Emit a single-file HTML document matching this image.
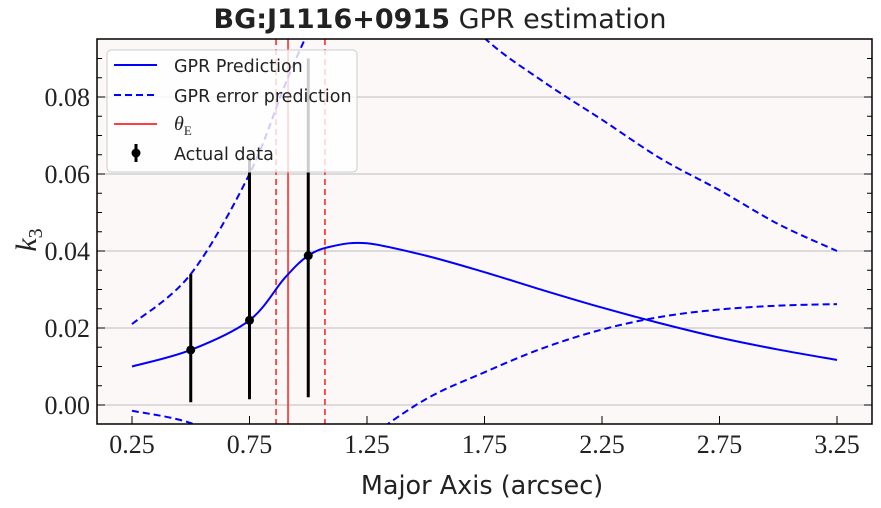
<!DOCTYPE html>
<html><head><meta charset="utf-8"><style>
body{margin:0;background:#fff;}
svg{display:block;}
</style></head><body>
<svg id="c" width="881" height="508" xmlns="http://www.w3.org/2000/svg" font-family="DejaVu Sans, Liberation Sans, sans-serif">
<defs><clipPath id="clip"><rect x="97" y="39" width="775" height="385"/></clipPath></defs>
<rect x="97" y="39" width="775" height="385" fill="#fdf8f8"/>
<g id="grid"></g><g id="plot" clip-path="url(#clip)"></g>
<rect x="97" y="39" width="775" height="385" fill="none" stroke="#000" stroke-width="1.5"/>
<g id="axes"></g>
<text x="440" y="28" text-anchor="middle" font-size="27" fill="#222"><tspan font-weight="bold">BG:J1116+0915</tspan> GPR estimation</text>
<text x="482" y="494" text-anchor="middle" font-size="25.5" fill="#222">Major Axis (arcsec)</text>
<text x="36" y="240" text-anchor="middle" font-size="30" font-style="italic" fill="#222" style="font-family:'Liberation Serif',serif" transform="rotate(-90 36 240)">k<tspan font-size="20" font-style="normal" dy="6">3</tspan></text>
<g>
<rect x="107" y="50" width="250" height="122" rx="4" fill="rgba(255,255,255,0.8)" stroke="#ccc"/>
<line x1="114" y1="65" x2="157" y2="65" stroke="#0000ff" stroke-width="2"/>
<text x="174" y="72" font-size="17.5" fill="#222">GPR Prediction</text>
<line x1="114" y1="95" x2="157" y2="95" stroke="#0000ff" stroke-width="2" stroke-dasharray="7,4"/>
<text x="174" y="102" font-size="17.5" fill="#222">GPR error prediction</text>
<line x1="114" y1="124" x2="157" y2="124" stroke="#ff4040" stroke-width="2"/>
<text x="174" y="130" font-size="20" font-style="italic" fill="#222" style="font-family:'Liberation Serif',serif">θ<tspan font-size="13" font-style="normal" dy="5">E</tspan></text>
<line x1="136" y1="144" x2="136" y2="162" stroke="#000" stroke-width="3"/>
<circle cx="136" cy="153" r="4.5" fill="#000"/>
<text x="174" y="160" font-size="17.5" fill="#222">Actual data</text>
</g>
</svg>
<script>
const gridX=[0.25,0.5,0.75,0.9,1.0,1.1,1.25,1.5,1.75,2.0,2.25,2.5,2.75,3.0,3.25];
const meanK3=[0.010,0.0143,0.022,0.033,0.0388,0.0412,0.0420,0.0388,0.0345,0.0298,0.0253,0.0212,0.0175,0.0144,0.0117];
const upperK3=[0.021,0.034,0.060,0.083,0.097,0.110,0.125,0.112,0.0953,0.084,0.0741,0.064,0.0558,0.047,0.040];
const lowerK3=[-0.0015,-0.0047,-0.012,-0.017,-0.019,-0.018,-0.009,0.0015,0.0085,0.0148,0.0196,0.0229,0.0248,0.0258,0.0262];
const dataX=[0.5,0.75,1.0];
const dataY=[0.0143,0.022,0.0388];
const dataLo=[0.0007,0.0015,0.002];
const dataHi=[0.034,0.0643,0.090];
const thetaE=0.914, thetaLo=0.863, thetaHi=1.071;
const xTicks=[0.25,0.75,1.25,1.75,2.25,2.75,3.25];
const xTickLabels=["0.25","0.75","1.25","1.75","2.25","2.75","3.25"];
const yTicks=[0,0.02,0.04,0.06,0.08];
const yTickLabels=["0.00","0.02","0.04","0.06","0.08"];
const X=v=>132+(v-0.25)*235;
const Y=v=>405-v*3850;
const NS="http://www.w3.org/2000/svg";
function mk(tag,attrs,parent){const e=document.createElementNS(NS,tag);for(const k in attrs)e.setAttribute(k,attrs[k]);parent.appendChild(e);return e;}
function spline(xs,ys){const p=xs.map((x,i)=>[X(x),Y(ys[i])]);let d="M"+p[0][0]+","+p[0][1];
for(let i=0;i<p.length-1;i++){const p0=p[i-1]||p[i],p1=p[i],p2=p[i+1],p3=p[i+2]||p[i+1];
d+=" C"+(p1[0]+(p2[0]-p0[0])/6)+","+(p1[1]+(p2[1]-p0[1])/6)+" "+(p2[0]-(p3[0]-p1[0])/6)+","+(p2[1]-(p3[1]-p1[1])/6)+" "+p2[0]+","+p2[1];}return d;}
const grid=document.getElementById('grid'),plot=document.getElementById('plot'),axes=document.getElementById('axes');
const tickStyle="font-family:'Liberation Serif',serif;font-size:26px;fill:#222";
yTicks.forEach((t,i)=>{
 const g=mk('line',{x1:97,x2:872,y1:Y(t),y2:Y(t),stroke:'#bbb','stroke-width':1},grid);
 
 
 const tx=mk('text',{x:90,y:Y(t)+9,'text-anchor':'end',style:tickStyle},axes);tx.textContent=yTickLabels[i];
 
 
});
for(let k=-1;k<=19;k++){const v=k*0.005,y=Y(v);if(y<40||y>423)continue;const L=(k%4===0)?8:5;
 mk('line',{x1:97,x2:97+L,y1:y,y2:y,stroke:'#000'},axes);mk('line',{x1:872,x2:872-L,y1:y,y2:y,stroke:'#000'},axes);}
xTicks.forEach((t,i)=>{mk('line',{x1:X(t),x2:X(t),y1:424,y2:416,stroke:'#000'},axes);
 const tx=mk('text',{x:X(t),y:453,'text-anchor':'middle',style:tickStyle},axes);tx.textContent=xTickLabels[i];
 
 });
[[thetaLo,'6,4','theta-e-lower'],[thetaE,null,'theta-e-line'],[thetaHi,'6,4','theta-e-upper']].forEach(a=>{
 const l=mk('line',{x1:X(a[0]),x2:X(a[0]),y1:39,y2:424,stroke:'#ff4040','stroke-width':1.8},plot);
 if(a[1])l.setAttribute('stroke-dasharray',a[1]);
 
 });
const pm=mk('path',{d:spline(gridX,meanK3),fill:'none',stroke:'#0000ff','stroke-width':2},plot);


const pu=mk('path',{d:spline(gridX,upperK3),fill:'none',stroke:'#0000ff','stroke-width':2,'stroke-dasharray':'7,4'},plot);


const pl=mk('path',{d:spline(gridX,lowerK3),fill:'none',stroke:'#0000ff','stroke-width':2,'stroke-dasharray':'7,4'},plot);


dataX.forEach((x,i)=>{
 const b=mk('line',{x1:X(x),x2:X(x),y1:Y(dataLo[i]),y2:Y(dataHi[i]),stroke:'#000','stroke-width':3},plot);
 
 
 const c=mk('circle',{cx:X(x),cy:Y(dataY[i]),r:4.5,fill:'#000'},plot);
 
 });
</script>
</body></html>
